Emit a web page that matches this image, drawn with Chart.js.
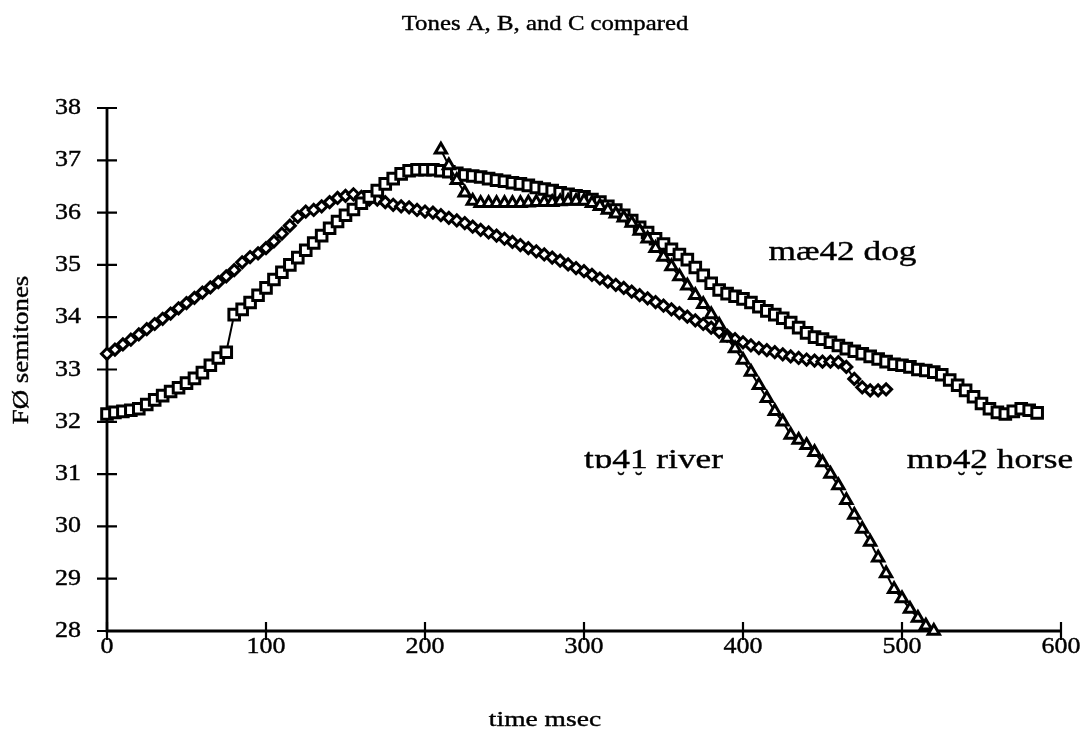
<!DOCTYPE html>
<html>
<head>
<meta charset="utf-8">
<title>Tones A, B, and C compared</title>
<script src="https://cdn.jsdelivr.net/npm/chart.js@4"></script>
<style>
  html, body { margin: 0; padding: 0; background: #fff; }
  #wrap { width: 1090px; height: 745px; position: relative; }
</style>
</head>
<body>
<div id="wrap"><canvas id="chart"></canvas></div>
<script>
// F0 tracks (time in msec, F0 in semitones)
const timesDiamond = [
  0, 5, 10, 15, 20, 25, 30, 35, 40, 45, 50, 55, 60, 65, 70, 75, 80, 85, 90, 95,
  100, 105, 110, 115, 120, 125, 130, 135, 140, 145, 150, 155, 160, 165, 170, 175, 180, 185, 190, 195,
  200, 205, 210, 215, 220, 225, 230, 235, 240, 245, 250, 255, 260, 265, 270, 275, 280, 285, 290, 295,
  300, 305, 310, 315, 320, 325, 330, 335, 340, 345, 350, 355, 360, 365, 370, 375, 380, 385, 390, 395,
  400, 405, 410, 415, 420, 425, 430, 435, 440, 445, 450, 455, 460, 465, 470, 475, 480, 485, 490
];
const valuesDiamond = [
  33.30, 33.38, 33.48, 33.57, 33.67, 33.77, 33.87, 33.97, 34.07, 34.17, 34.27, 34.37, 34.47, 34.57, 34.67, 34.78, 34.90, 35.05, 35.15, 35.22,
  35.32, 35.45, 35.60, 35.75, 35.92, 36.02, 36.05, 36.12, 36.20, 36.28, 36.32, 36.35, 36.30, 36.25, 36.25, 36.20, 36.15, 36.12, 36.10, 36.05,
  36.02, 36.00, 35.95, 35.90, 35.85, 35.80, 35.73, 35.67, 35.62, 35.56, 35.50, 35.44, 35.38, 35.32, 35.26, 35.20, 35.14, 35.08, 35.01, 34.94,
  34.88, 34.81, 34.74, 34.68, 34.62, 34.56, 34.49, 34.42, 34.36, 34.29, 34.22, 34.15, 34.08, 34.01, 33.94, 33.87, 33.80, 33.72, 33.65, 33.58,
  33.52, 33.46, 33.41, 33.37, 33.33, 33.29, 33.25, 33.22, 33.19, 33.17, 33.15, 33.15, 33.14, 33.05, 32.82, 32.66, 32.60, 32.60, 32.62
];

const timesSquare = [
  0, 5, 10, 15, 20, 25, 30, 35, 40, 45, 50, 55, 60, 65, 70, 75, 80, 85, 90, 95,
  100, 105, 110, 115, 120, 125, 130, 135, 140, 145, 150, 155, 160, 165, 170, 175, 180, 185, 190, 195,
  200, 205, 210, 215, 220, 225, 230, 235, 240, 245, 250, 255, 260, 265, 270, 275, 280, 285, 290, 295,
  300, 305, 310, 315, 320, 325, 330, 335, 340, 345, 350, 355, 360, 365, 370, 375, 380, 385, 390, 395,
  400, 405, 410, 415, 420, 425, 430, 435, 440, 445, 450, 455, 460, 465, 470, 475, 480, 485, 490, 495,
  500, 505, 510, 515, 520, 525, 530, 535, 540, 545, 550, 555, 560, 565, 570, 575, 580, 585
];
const valuesSquare = [
  32.15, 32.18, 32.20, 32.22, 32.25, 32.33, 32.42, 32.50, 32.58, 32.65, 32.74, 32.83, 32.94, 33.08, 33.22, 33.33, 34.05, 34.15, 34.28, 34.42,
  34.56, 34.72, 34.86, 35.00, 35.14, 35.28, 35.42, 35.56, 35.70, 35.83, 35.95, 36.06, 36.18, 36.30, 36.42, 36.55, 36.65, 36.74, 36.80, 36.82,
  36.82, 36.82, 36.80, 36.78, 36.75, 36.72, 36.70, 36.68, 36.65, 36.62, 36.60, 36.57, 36.55, 36.52, 36.48, 36.45, 36.42, 36.38, 36.35, 36.32,
  36.30, 36.25, 36.20, 36.12, 36.05, 35.95, 35.85, 35.72, 35.62, 35.50, 35.40, 35.30, 35.20, 35.10, 34.95, 34.80, 34.65, 34.52, 34.45, 34.40,
  34.35, 34.28, 34.20, 34.12, 34.05, 33.98, 33.90, 33.80, 33.70, 33.62, 33.58, 33.52, 33.46, 33.40, 33.35, 33.30, 33.25, 33.20, 33.15, 33.10,
  33.08, 33.05, 33.00, 32.98, 32.95, 32.90, 32.80, 32.70, 32.60, 32.48, 32.35, 32.25, 32.18, 32.15, 32.20, 32.25, 32.22, 32.17
];

const timesTriangle = [
  210, 215, 220, 225, 230, 235, 240, 245, 250, 255, 260, 265, 270, 275, 280, 285, 290, 295,
  300, 305, 310, 315, 320, 325, 330, 335, 340, 345, 350, 355, 360, 365, 370, 375, 380, 385, 390, 395,
  400, 405, 410, 415, 420, 425, 430, 435, 440, 445, 450, 455, 460, 465, 470, 475, 480, 485, 490, 495,
  500, 505, 510, 515, 520
];
const valuesTriangle = [
  37.20, 36.90, 36.62, 36.38, 36.22, 36.18, 36.18, 36.18, 36.18, 36.18, 36.18, 36.19, 36.20, 36.20, 36.20, 36.21, 36.22, 36.22,
  36.22, 36.18, 36.12, 36.05, 35.98, 35.90, 35.80, 35.65, 35.50, 35.32, 35.15, 34.97, 34.78, 34.60, 34.42, 34.25, 34.05, 33.85, 33.60, 33.40,
  33.18, 32.95, 32.70, 32.45, 32.20, 32.00, 31.75, 31.65, 31.55, 31.42, 31.22, 31.00, 30.78, 30.50, 30.22, 29.95, 29.70, 29.40, 29.10, 28.80,
  28.62, 28.42, 28.25, 28.10, 28.00
];

const xTickLabels = [0, 100, 200, 300, 400, 500, 600];
const yTickLabels = [28, 29, 30, 31, 32, 33, 34, 35, 36, 37, 38];

// text labels next to the tracks: [text before tone, tone digits, text after, breve?, time, semitones]
const curveLabels = [
  ['mæ', '42', ' dog', false, 416, 35.1],
  ['tɒ', '41', ' river', true, 300, 31.12],
  ['mɒ', '42', ' horse', true, 503, 31.12]
];

const FONT = '"Liberation Serif", Tinos, "Times New Roman", serif';

function toPoints(xs, ys) {
  return xs.map((x, i) => ({ x: x, y: ys[i] }));
}

// the source figure is a bit wider than tall, so text is drawn slightly widened
function wideText(ctx, text, x, y, size, sx, align, baseline, rot) {
  ctx.save();
  ctx.translate(x, y);
  if (rot) ctx.rotate(rot);
  ctx.scale(sx, 1);
  ctx.font = size + 'px ' + FONT;
  ctx.fillStyle = '#000';
  ctx.strokeStyle = '#000';
  ctx.lineWidth = 0.4;
  ctx.textAlign = align;
  ctx.textBaseline = baseline;
  ctx.fillText(text, 0, 0);
  ctx.strokeText(text, 0, 0);
  ctx.restore();
}

// label with a breve under each tone digit (mɒ4̮2̮)
function toneLabel(ctx, l, x, y, size, sx) {
  ctx.save();
  ctx.font = size + 'px ' + FONT;
  const w1 = ctx.measureText(l[0]).width * sx;
  const dw = ctx.measureText('4').width * sx;
  ctx.restore();
  wideText(ctx, l[0] + l[1] + l[2], x, y, size, sx, 'left', 'alphabetic');
  if (!l[3]) return;
  for (let i = 0; i < l[1].length; i++) {
    wideText(ctx, '\u02D8', x + w1 + dw * (i + 0.5), y + size * 0.72, size * 0.8, 1.0, 'center', 'alphabetic');
  }
}

const axesPlugin = {
  id: 'axes',
  beforeDatasetsDraw(chart) {
    const ctx = chart.ctx;
    const xs = chart.scales.x, ys = chart.scales.y;
    const x0 = xs.getPixelForValue(0), y0 = ys.getPixelForValue(28);
    ctx.save();
    ctx.strokeStyle = '#000';
    ctx.lineWidth = 2.8;
    ctx.lineCap = 'butt';
    ctx.beginPath();
    ctx.moveTo(x0, ys.getPixelForValue(38));
    ctx.lineTo(x0, y0);
    ctx.lineTo(xs.getPixelForValue(600), y0);
    ctx.stroke();
    ctx.lineWidth = 2.2;
    ctx.beginPath();
    yTickLabels.forEach(v => {
      const p = ys.getPixelForValue(v);
      ctx.moveTo(x0 - 10, p);
      ctx.lineTo(x0 + 10, p);
    });
    xTickLabels.forEach(v => {
      const p = xs.getPixelForValue(v);
      ctx.moveTo(p, y0 - 9);
      ctx.lineTo(p, y0 + 9);
    });
    ctx.stroke();
    ctx.restore();
  },
  afterDraw(chart) {
    const ctx = chart.ctx;
    const xs = chart.scales.x, ys = chart.scales.y;
    const y0 = ys.getPixelForValue(28);

    yTickLabels.forEach(v => {
      wideText(ctx, String(v), 81, ys.getPixelForValue(v), 23, 1.13, 'right', 'middle');
    });
    xTickLabels.forEach(v => {
      wideText(ctx, String(v), xs.getPixelForValue(v), y0 + 16, 23, 1.13, 'center', 'middle');
    });

    wideText(ctx, 'Tones A, B, and C compared', chart.width / 2, 24, 21, 1.18, 'center', 'middle');
    wideText(ctx, 'time msec', chart.width / 2, 720, 22, 1.25, 'center', 'middle');
    wideText(ctx, 'FØ semitones', 22, 350, 24, 1.12, 'center', 'middle', -Math.PI / 2);

    curveLabels.forEach(l => {
      toneLabel(ctx, l, xs.getPixelForValue(l[4]), ys.getPixelForValue(l[5]), 28, 1.26);
    });
  }
};

function series(label, xs, ys, style, radius, order) {
  return {
    label: label,
    data: toPoints(xs, ys),
    showLine: true,
    borderColor: '#000',
    borderWidth: 2,
    pointStyle: style,
    pointRadius: radius,
    pointHoverRadius: radius,
    pointBackgroundColor: '#fff',
    pointBorderColor: '#000',
    pointBorderWidth: 3,
    clip: false,
    order: order
  };
}

function makeChart() {
  new Chart(document.getElementById('chart'), {
    type: 'scatter',
    data: {
      datasets: [
        series('mɒ4̮2̮ horse', timesDiamond, valuesDiamond, 'rectRot', 5.5, 2),
        series('mæ42 dog', timesSquare, valuesSquare, 'rect', 7.5, 1),
        series('tɒ4̮1̮ river', timesTriangle, valuesTriangle, 'triangle', 6.5, 0)
      ]
    },
    options: {
      responsive: true,
      maintainAspectRatio: false,
      animation: false,
      devicePixelRatio: 1,
      layout: { padding: { left: 107, right: 29, top: 108, bottom: 114 } },
      plugins: {
        legend: { display: false },
        title: { display: false },
        tooltip: { enabled: false }
      },
      scales: {
        x: { type: 'linear', min: 0, max: 600, display: false },
        y: { type: 'linear', min: 28, max: 38, display: false }
      }
    },
    plugins: [axesPlugin]
  });
}

document.fonts.load('23px "Liberation Serif"').then(makeChart, makeChart);
</script>
</body>
</html>
